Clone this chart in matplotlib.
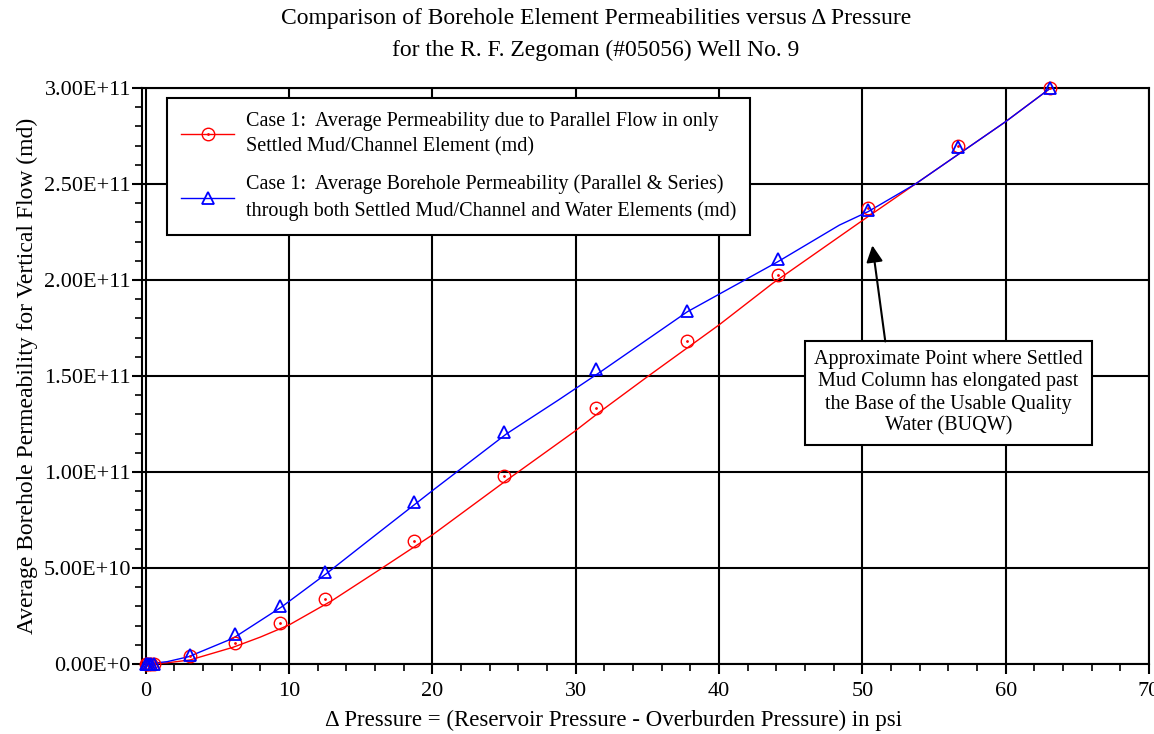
import matplotlib
matplotlib.use('Agg')
import matplotlib.pyplot as plt
from matplotlib.lines import Line2D
from matplotlib.ticker import MultipleLocator, FixedLocator, FixedFormatter

plt.rcParams['font.family'] = ['Liberation Serif', 'DejaVu Serif']

# 資料點 (psi, md)
pressure = [0, 0.1, 0.2, 0.4, 0.6, 3.1, 6.2, 9.4, 12.5, 18.7, 25.0,
            31.4, 37.8, 44.1, 50.4, 56.7, 63.1]
perm_parallel = [0, 2e7, 5e7, 1e8, 2e8, 4.3e9, 1.11e10, 2.12e10, 3.37e10,
                 6.42e10, 9.79e10, 1.332e11, 1.684e11, 2.026e11, 2.375e11,
                 2.698e11, 3.0e11]
perm_series = [0, 2e7, 5e7, 1e8, 2e8, 4.7e9, 1.56e10, 3.04e10, 4.78e10,
               8.45e10, 1.207e11, 1.536e11, 1.84e11, 2.108e11, 2.365e11,
               2.694e11, 2.998e11]

# 趨勢線
red_x = [0, 1.5, 3.1, 6.1, 8.0, 10.0, 13.0, 16.4, 20.0, 25.2, 29.9, 31.7,
         35.0, 40.0, 43.75, 48.4, 50.2, 53.7, 60.0, 63.1]
red_y = [0, 6e8, 2.1e9, 8.7e9, 1.4e10, 2.03e10, 3.3e10, 4.95e10, 6.72e10,
         9.58e10, 1.21e11, 1.314e11, 1.496e11, 1.766e11, 1.983e11, 2.226e11,
         2.32e11, 2.5e11, 2.825e11, 2.998e11]
blue_x = [0, 1.5, 3.0, 6.1, 9.5, 12.6, 15.6, 20.06, 25.2, 28.8, 31.7,
          37.8, 44.1, 48.4, 50.4, 53.7, 60.0, 63.1]
blue_y = [0, 1.2e9, 3.8e9, 1.34e10, 2.98e10, 4.7e10, 6.46e10,
          9.06e10, 1.2e11, 1.375e11, 1.52e11, 1.835e11, 2.095e11,
          2.286e11, 2.356e11, 2.5e11, 2.825e11, 2.998e11]

ytick_vals = [0, 5e10, 1e11, 1.5e11, 2e11, 2.5e11, 3e11]
ytick_labels = ['0.00E+0', '5.00E+10', '1.00E+11', '1.50E+11', '2.00E+11',
                '2.50E+11', '3.00E+11']

label_red = ('Case 1:  Average Permeability due to Parallel Flow in only\n'
             'Settled Mud/Channel Element (md)')
label_blue = ('Case 1:  Average Borehole Permeability (Parallel & Series)\n'
              'through both Settled Mud/Channel and Water Elements (md)')
note = ('Approximate Point where Settled\nMud Column has elongated past\n'
        'the Base of the Usable Quality\nWater (BUQW)')

fig = plt.figure(figsize=(11.54, 7.34), dpi=100)
ax = fig.add_axes([0.1231, 0.0954, 0.8726, 0.7847])

# 線
ax.plot(red_x, red_y, '-', color='red', lw=1.0, zorder=3)
ax.plot(blue_x, blue_y, '-', color='blue', lw=1.0, zorder=3)

# 點
ax.plot(pressure, perm_parallel, 'o', mfc='none', mec='red', ms=9, mew=1.0,
        zorder=4, clip_on=False)
ax.plot(pressure, perm_parallel, '.', color='red', ms=2, zorder=4, clip_on=False)
ax.plot(pressure, perm_series, '^', mfc='none', mec='blue', ms=9, mew=1.3,
        zorder=5, clip_on=False)

ax.set_xlim(-0.25, 70)
ax.set_ylim(0, 3e11)
ax.xaxis.set_major_locator(MultipleLocator(10))
ax.xaxis.set_minor_locator(MultipleLocator(2))
ax.yaxis.set_major_locator(FixedLocator(ytick_vals))
ax.yaxis.set_major_formatter(FixedFormatter(ytick_labels))
ax.yaxis.set_minor_locator(MultipleLocator(1e10))
ax.tick_params(which='major', direction='out', length=7, width=1.5,
               labelsize=16, pad=1)
ax.tick_params(which='minor', direction='out', length=5, width=1.2)
ax.tick_params(axis='x', pad=6)
ax.grid(True, which='major', color='black', lw=1.5)
for s in ax.spines.values():
    s.set_linewidth(1.5)
    s.set_color('black')

ax.set_xlabel('\u0394 Pressure = (Reservoir Pressure - Overburden Pressure) in psi',
              fontsize=16.5, labelpad=3)
ax.xaxis.set_label_coords(0.468, -0.079)
ax.set_ylabel('Average Borehole Permeability for Vertical Flow (md)',
              fontsize=17, labelpad=4)

fig.text(0.5165, 0.975, 'Comparison of Borehole Element Permeabilities versus \u0394 Pressure',
         ha='center', va='center', fontsize=17)
fig.text(0.5165, 0.931, 'for the R. F. Zegoman (#05056) Well No. 9',
         ha='center', va='center', fontsize=17)

# 圖例
h_red = (Line2D([], [], color='red', lw=1.0, marker='o', mfc='none', mec='red', ms=9),
         Line2D([], [], ls='none', color='red', marker='.', ms=2))
h_blue = Line2D([], [], color='blue', lw=1.0, marker='^', mfc='none', mec='blue',
                ms=9, mew=1.3)
leg = ax.legend([h_red, h_blue], [label_red, label_blue], loc='upper left',
                bbox_to_anchor=(0.025, 0.983), borderaxespad=0, fontsize=14.5,
                fancybox=False, framealpha=1, edgecolor='black', handlelength=2.6,
                handletextpad=0.6, labelspacing=0.9, borderpad=0.7)
leg.get_frame().set_linewidth(1.5)
for t in leg.get_texts():
    t.set_linespacing(1.45)

# 註解
ax.text(56.0, 1.411e11, note, ha='center', va='center', fontsize=14.5,
        multialignment='center', zorder=6, linespacing=1.2,
        bbox=dict(boxstyle='square,pad=0.45', fc='white', ec='black', lw=1.5))
ax.annotate('', xy=(50.7, 2.18e11), xytext=(51.6, 1.68e11),
            arrowprops=dict(arrowstyle='-|>', color='black', lw=1.5,
                            mutation_scale=25, shrinkA=0, shrinkB=0), zorder=6)

fig.savefig('out.png', dpi=100)
